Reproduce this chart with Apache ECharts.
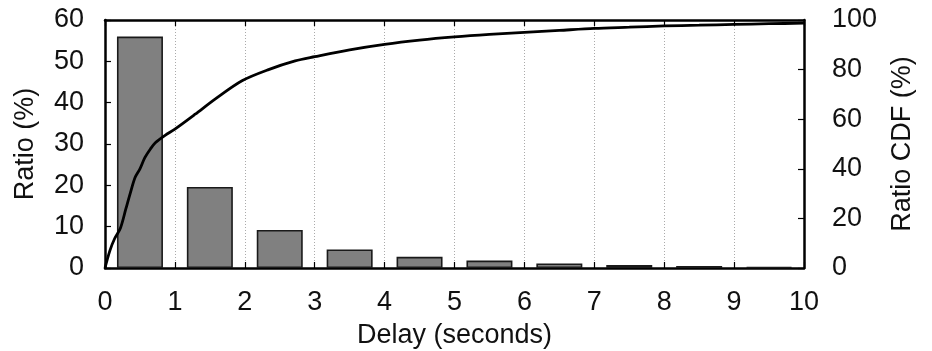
<!DOCTYPE html>
<html>
<head>
<meta charset="utf-8">
<script src="https://cdn.jsdelivr.net/npm/echarts@6/dist/echarts.min.js"></script>
<style>html,body{margin:0;padding:0;background:#fff}#c{width:932px;height:351px}</style>
</head>
<body>
<div id="c"></div>
<script>
// Histogram bins (bin centers in seconds) and ratio values (%)
const binCenters = [0.5, 1.5, 2.5, 3.5, 4.5, 5.5, 6.5, 7.5, 8.5, 9.5];
const ratioValues = [56, 19.6, 9.2, 4.5, 2.7, 1.8, 1.1, 0.7, 0.5, 0.25];
// CDF curve (delay in seconds, cumulative %)
const cdfDelay = [0, 0.07, 0.14, 0.22, 0.3, 0.36, 0.43, 0.5, 0.57, 0.65, 0.72, 0.86, 1.0, 1.29, 1.57, 1.96, 2.34, 2.72, 3.0, 3.5, 4.0, 4.5, 5.0, 5.5, 6.0, 6.5, 7.0, 7.5, 8.0, 8.5, 9.0, 9.5, 10];
const cdfValues = [0, 7, 12, 16, 24, 30, 36.5, 40, 44.5, 48, 50.5, 53.5, 56, 62, 68, 75.5, 80, 83.5, 85.2, 88, 90.2, 91.9, 93.2, 94.2, 95.0, 95.8, 96.6, 97.1, 97.6, 97.9, 98.2, 98.5, 98.7];
// Axis tick setup
const xTicks = {min: 0, max: 10, interval: 1};
const yLeftTicks = {min: 0, max: 60, interval: 10};
const yRightTicks = {min: 0, max: 100, interval: 20};

const FONT = 'Liberation Sans';
const FS = 27;
function axisLine() { return {show: true, onZero: false, lineStyle: {color: '#000', width: 2.5}}; }
function ticks() { return {show: true, inside: true, length: 6, lineStyle: {color: '#000', width: 1.2}}; }

const chart = echarts.init(document.getElementById('c'), null, {renderer: 'canvas'});
chart.setOption({
  animation: false,
  backgroundColor: '#fff',
  grid: {left: 105, right: 128, top: 20, bottom: 83, containLabel: false, outerBoundsMode: 'none'},
  xAxis: [{
    type: 'value', min: xTicks.min, max: xTicks.max, interval: xTicks.interval,
    position: 'bottom',
    name: 'Delay (seconds)', nameLocation: 'middle', nameGap: 54,
    nameTextStyle: {fontFamily: FONT, fontSize: FS, color: '#111'},
    axisLine: axisLine(), axisTick: ticks(),
    axisLabel: {margin: 21, fontFamily: FONT, fontSize: FS, color: '#111'},
    splitLine: {show: true, lineStyle: {color: '#aaa', type: [1, 2], width: 1}}
  }, {
    type: 'value', min: xTicks.min, max: xTicks.max, interval: xTicks.interval,
    position: 'top',
    axisLine: axisLine(), axisTick: ticks(), axisLabel: {show: false}, splitLine: {show: false}
  }],
  yAxis: [{
    type: 'value', min: yLeftTicks.min, max: yLeftTicks.max, interval: yLeftTicks.interval,
    position: 'left',
    name: 'Ratio (%)', nameLocation: 'middle', nameGap: 66, nameRotate: 90,
    nameTextStyle: {fontFamily: FONT, fontSize: FS, color: '#111'},
    axisLine: axisLine(), axisTick: ticks(),
    axisLabel: {margin: 21, fontFamily: FONT, fontSize: FS, color: '#111'},
    splitLine: {show: false}
  }, {
    type: 'value', min: yRightTicks.min, max: yRightTicks.max, interval: yRightTicks.interval,
    position: 'right',
    name: 'Ratio CDF (%)', nameLocation: 'middle', nameGap: 85, nameRotate: 90,
    nameTextStyle: {fontFamily: FONT, fontSize: FS, color: '#111'},
    axisLine: axisLine(), axisTick: ticks(),
    axisLabel: {margin: 28, fontFamily: FONT, fontSize: FS, color: '#111'},
    splitLine: {show: false}
  }],
  series: [{
    type: 'bar',
    xAxisIndex: 0, yAxisIndex: 0,
    barWidth: 46,
    data: binCenters.map((c, i) => [c, ratioValues[i]]),
    itemStyle: {color: '#808080', borderColor: '#1a1a1a', borderWidth: 1.6},
    z: 2
  }, {
    type: 'line',
    xAxisIndex: 0, yAxisIndex: 1,
    data: cdfDelay.map((t, i) => [t, cdfValues[i]]),
    showSymbol: false, symbol: 'none',
    smooth: 0.3,
    lineStyle: {color: '#000', width: 2.8},
    z: 3
  }]
});
</script>
</body>
</html>
